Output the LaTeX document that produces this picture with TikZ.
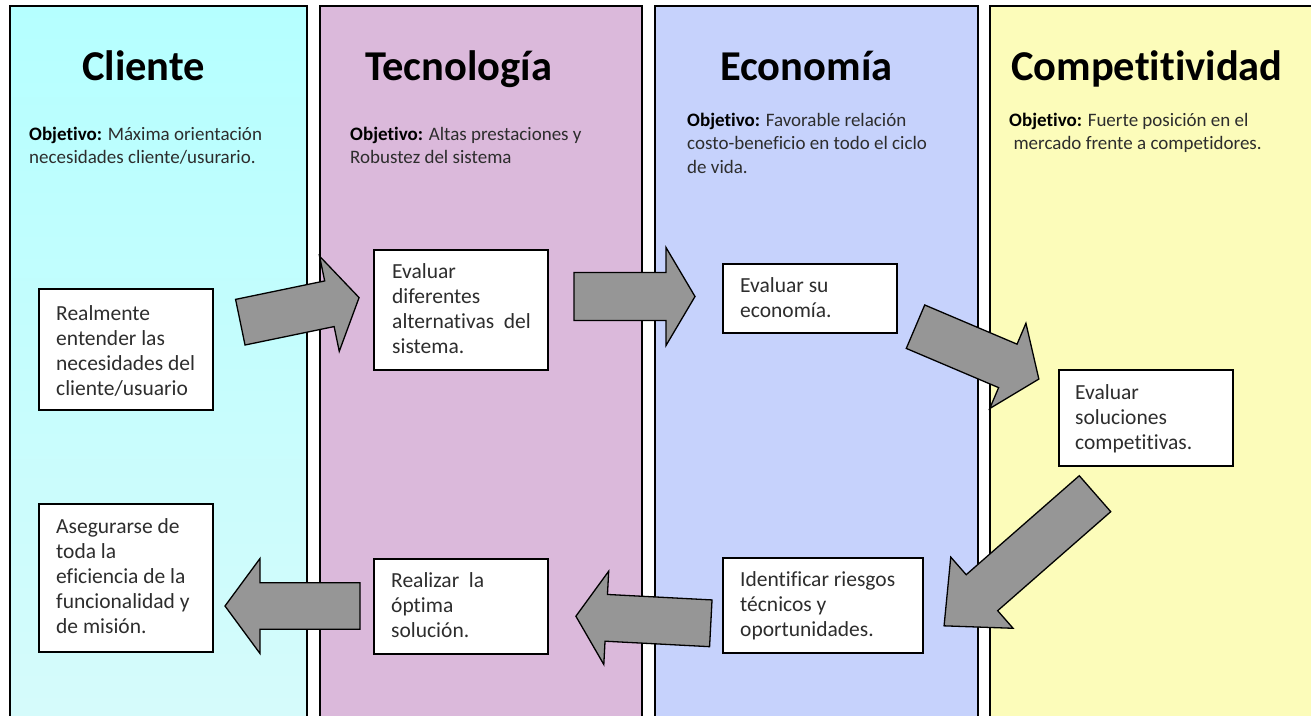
\documentclass[tikz,border=0pt]{standalone}
\usepackage{fontspec}
\setmainfont{Carlito}[Ligatures={NoCommon}]
\usetikzlibrary{calc}

\definecolor{cliTop}{RGB}{181,255,255}
\definecolor{cliBot}{RGB}{214,251,251}
\definecolor{tecFill}{RGB}{219,185,219}
\definecolor{ecoFill}{RGB}{198,210,252}
\definecolor{comFill}{RGB}{252,252,186}
\definecolor{arrowFill}{RGB}{150,150,150}
\definecolor{bodyText}{RGB}{45,45,45}

% invisible struts fixing the height of the first line of a text block
\newcommand{\objstrut}{\rule{0pt}{20pt}}
\newcommand{\boxstrut}{\rule{0pt}{22pt}}
\newcommand{\obj}{\textbf{\color{black}Objetivo:}}

% block arrow: tail centre (#1,#2), rotation #3, length #4,
% shaft half width #5, head half width #6, head length #7
\newcommand{\blockarr}[7]{%
  \draw[blockarrow, shift={(#1,#2)}, rotate=#3]
    (0,#5) -- ({#4-#7},#5) -- ({#4-#7},#6) -- (#4,0)
    -- ({#4-#7},-#6) -- ({#4-#7},-#5) -- (0,-#5) -- cycle;}

\tikzset{
  column/.style={draw=black, line width=2pt},
  title/.style={anchor=base west, inner sep=0pt,
    font=\fontsize{42.5}{50}\selectfont\bfseries, text=black},
  objective/.style={anchor=north west, inner sep=0pt, align=left,
    font=\fontsize{19}{23.5}\selectfont, text=bodyText},
  stepbox/.style={draw=black, line width=2pt, fill=white,
    inner sep=0pt, anchor=north west},
  boxtext/.style={anchor=north west, inner sep=0pt, align=left,
    font=\fontsize{21.5}{25}\selectfont, text=bodyText},
  blockarrow/.style={fill=arrowFill, draw=black, line width=1.3pt,
    line join=miter},
}

\begin{document}
\begin{tikzpicture}[x=1pt, y=-1pt]
  \clip (0,0) rectangle (1311,715);
  \fill[white] (0,0) rectangle (1311,715);

  % four columns
  \draw[column, top color=cliTop, bottom color=cliBot] (10,6) rectangle (307,730);
  \draw[column, fill=tecFill] (320,6) rectangle (642,730);
  \draw[column, fill=ecoFill] (655,6) rectangle (978,730);
  \draw[column, fill=comFill] (990,6) rectangle (1330,730);

  % column titles
  \node[title] (hCli) at (82,80) {Cliente};
  \node[title] (hTec) at (365,80) {Tecnología};
  \node[title] (hEco) at (720,80) {Economía};
  \node[title] (hCom) at (1011,80) {Competitividad};

  % objectives
  \node[objective] (oCli) at (29,120)
    {\objstrut\obj{} Máxima orientación\\necesidades cliente/usurario.};
  \node[objective] (oTec) at (350,120)
    {\objstrut\obj{} Altas prestaciones y\\Robustez del sistema};
  \node[objective] (oEco) at (687,106)
    {\objstrut\obj{} Favorable relación\\costo-beneficio en todo el ciclo\\de vida.};
  \node[objective] (oCom) at (1009,106)
    {\objstrut\obj{} Fuerte posición en el\\\hspace*{4.3pt}mercado frente a competidores.};

  % step boxes
  \node[stepbox, minimum width=174pt, minimum height=121pt] (b1) at (38,288) {};
  \node[stepbox, minimum width=174pt, minimum height=120pt] (b2) at (373,249) {};
  \node[stepbox, minimum width=174pt, minimum height=69pt]  (b3) at (722,263) {};
  \node[stepbox, minimum width=174pt, minimum height=96pt]  (b4) at (1058,369) {};
  \node[stepbox, minimum width=200pt, minimum height=95pt]  (b5) at (722,557) {};
  \node[stepbox, minimum width=174pt, minimum height=95pt]  (b6) at (373,558) {};
  \node[stepbox, minimum width=174pt, minimum height=148pt] (b7) at (38,503) {};

  \node[boxtext] (t1) at ($(b1.north west)+(18,10)$)
    {\boxstrut Realmente\\entender las\\necesidades del\\cliente/usuario};
  \node[boxtext] (t2) at ($(b2.north west)+(19,7)$)
    {\boxstrut Evaluar\\diferentes\\alternativas\ \ del\\sistema.};
  \node[boxtext] (t3) at ($(b3.north west)+(18,7)$)
    {\boxstrut Evaluar su\\economía.};
  \node[boxtext] (t4) at ($(b4.north west)+(17,8)$)
    {\boxstrut Evaluar\\soluciones\\competitivas.};
  \node[boxtext] (t5) at ($(b5.north west)+(18,7)$)
    {\boxstrut Identificar riesgos\\técnicos y\\oportunidades.};
  \node[boxtext] (t6) at ($(b6.north west)+(18,7)$)
    {\boxstrut Realizar\ \ la\\óptima\\solución.};
  \node[boxtext] (t7) at ($(b7.north west)+(18,8)$)
    {\boxstrut Asegurarse de\\toda la\\eficiencia de la\\funcionalidad y\\de misión.};

  % block arrows between the steps
  \blockarr{240.3}{322.2}{11.7}{121.3}{23.3}{48.6}{30.3}
  \blockarr{574}{296.5}{0}{121}{24}{49}{29}
  \blockarr{915.5}{326.7}{-23}{134}{23.6}{46.3}{33.7}
  \blockarr{1095}{493.7}{-138.8}{200.6}{23.9}{47.3}{50.3}
  \blockarr{710.8}{623.3}{177}{135.1}{23.4}{46.7}{30.4}
  \blockarr{360}{606}{180}{135}{23.3}{47.5}{35}
\end{tikzpicture}
\end{document}
